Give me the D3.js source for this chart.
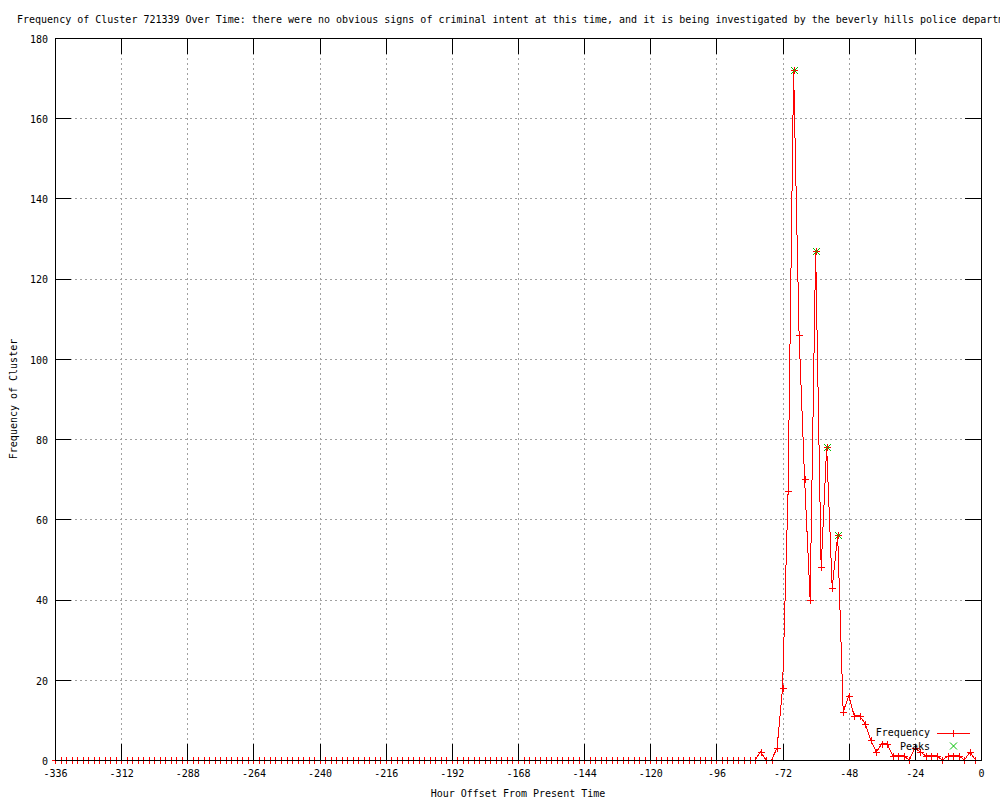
<!DOCTYPE html>
<html>
<head>
<meta charset="utf-8">
<script src="https://cdn.jsdelivr.net/npm/d3@7"></script>
<style>
  body { margin: 0; background: #fff; }
  svg { display: block; }
  text { font-family: "DejaVu Sans Mono", monospace; font-size: 10px; fill: #000; }
</style>
</head>
<body>
<svg id="vis" width="1000" height="800"></svg>
<script>
// hours before now, one bucket every 2 hours
const hours = d3.range(-336, 0, 2);
const frequency = [
  0,0,0,0,0,0,0,0,0,0,0,0,0,0,0,0,
  0,0,0,0,0,0,0,0,0,0,0,0,0,0,0,0,
  0,0,0,0,0,0,0,0,0,0,0,0,0,0,0,0,
  0,0,0,0,0,0,0,0,0,0,0,0,0,0,0,0,
  0,0,0,0,0,0,0,0,0,0,0,0,0,0,0,0,
  0,0,0,0,0,0,0,0,0,0,0,0,0,0,0,0,
  0,0,0,0,0,0,0,0,0,0,0,0,0,0,0,0,
  0,0,0,0,0,0,0,0,0,0,0,0,0,0,0,0,
  2,0,0,3,18,67,172,106,70,40,127,48,78,43,56,12,
  16,11,11,9,5,2,4,4,1,1,1,0,3,2,1,1,
  1,0,1,1,1,0,2,0
];
const peakHours = [-68, -60, -56, -52];
const peakValues = [172, 127, 78, 56];
const xTicks = [-336, -312, -288, -264, -240, -216, -192, -168, -144, -120, -96, -72, -48, -24, 0];
const yTicks = [0, 20, 40, 60, 80, 100, 120, 140, 160, 180];

const title = "Frequency of Cluster 721339 Over Time: there were no obvious signs of criminal intent at this time, and it is being investigated by the beverly hills police department.";

const plotL = 55, plotR = 981, plotT = 38, plotB = 760;
const tick = 16;

const svg = d3.select("#vis");
const x = d3.scaleLinear().domain([-336, 0]).range([plotL, plotR]);
const y = d3.scaleLinear().domain([0, 180]).range([plotB, plotT]);

const data = hours.map((h, i) => ({h: h, v: frequency[i]}));
const peaks = peakHours.map((h, i) => ({h: h, v: peakValues[i]}));

// grid
const grid = svg.append("g").attr("stroke", "#a0a0a0").attr("stroke-dasharray", "2,3")
  .attr("shape-rendering", "crispEdges");
grid.selectAll("line.gx").data(xTicks.slice(1, -1)).join("line")
  .attr("x1", d => Math.round(x(d)) + 0.5).attr("x2", d => Math.round(x(d)) + 0.5)
  .attr("y1", plotT).attr("y2", plotB);
grid.selectAll("line.gy").data(yTicks.slice(1, -1)).join("line")
  .attr("y1", d => Math.round(y(d)) + 0.5).attr("y2", d => Math.round(y(d)) + 0.5)
  .attr("x1", plotL).attr("x2", plotR);

const plus = (cx, cy, s) => `M${cx - s},${cy}H${cx + s}M${cx},${cy - s}V${cy + s}`;
const cross = (cx, cy, s) => `M${cx - s},${cy - s}L${cx + s},${cy + s}M${cx - s},${cy + s}L${cx + s},${cy - s}`;

// frequency series
const line = d3.line().x(d => x(d.h)).y(d => y(d.v));
svg.append("path").datum(data)
  .attr("d", line).attr("fill", "none").attr("stroke", "#ff0000").attr("stroke-width", 1)
  .attr("shape-rendering", "crispEdges");
svg.append("g").selectAll("path").data(data).join("path")
  .attr("d", d => plus(Math.round(x(d.h)) + 0.5, Math.round(y(d.v)) + 0.5, 3.5))
  .attr("stroke", "#ff0000").attr("fill", "none").attr("shape-rendering", "crispEdges");

// peaks
svg.append("g").selectAll("path").data(peaks).join("path")
  .attr("d", d => cross(Math.round(x(d.h)) + 0.5, Math.round(y(d.v)) + 0.5, 3.5))
  .attr("stroke", "#00c000").attr("fill", "none");

// axes, ticks pointing inward, mirrored
const fmt = d => String(d);
const ax = svg.append("g").attr("shape-rendering", "crispEdges");
const bottomAxis = ax.append("g").attr("transform", `translate(0,${plotB})`)
  .call(d3.axisBottom(x).tickValues(xTicks).tickFormat(fmt).tickSizeInner(-tick).tickSizeOuter(0).tickPadding(10));
const topAxis = ax.append("g").attr("transform", `translate(0,${plotT})`)
  .call(d3.axisTop(x).tickValues(xTicks).tickFormat("").tickSizeInner(-tick).tickSizeOuter(0));
const leftAxis = ax.append("g").attr("transform", `translate(${plotL},0)`)
  .call(d3.axisLeft(y).tickValues(yTicks).tickFormat(fmt).tickSizeInner(-tick).tickSizeOuter(0).tickPadding(7));
const rightAxis = ax.append("g").attr("transform", `translate(${plotR},0)`)
  .call(d3.axisRight(y).tickValues(yTicks).tickFormat("").tickSizeInner(-tick).tickSizeOuter(0));
[bottomAxis, topAxis, leftAxis, rightAxis].forEach(g => {
  g.attr("font-family", null).attr("font-size", null);
  g.select(".domain").remove();
  g.selectAll("line").attr("stroke", "#000");
});
leftAxis.selectAll("text").attr("dy", "0.43em");

// border on top of data
ax.append("rect").attr("x", plotL + 0.5).attr("y", plotT + 0.5)
  .attr("width", plotR - plotL).attr("height", plotB - plotT)
  .attr("fill", "none").attr("stroke", "#000");

// legend
const legend = svg.append("g");
legend.append("text").attr("x", 930).attr("y", 736).attr("text-anchor", "end").text("Frequency");
legend.append("line").attr("x1", 937).attr("x2", 970).attr("y1", 733.5).attr("y2", 733.5)
  .attr("stroke", "#ff0000").attr("shape-rendering", "crispEdges");
legend.append("path").attr("d", plus(953.5, 733.5, 3.5)).attr("stroke", "#ff0000")
  .attr("shape-rendering", "crispEdges");
legend.append("text").attr("x", 930).attr("y", 749.5).attr("text-anchor", "end").text("Peaks");
legend.append("path").attr("d", cross(953.5, 746, 3.5)).attr("stroke", "#00c000").attr("fill", "none");

// titles
svg.append("text").attr("x", 17).attr("y", 22.5).text(title);
svg.append("text").attr("x", (plotL + plotR) / 2).attr("y", 797).attr("text-anchor", "middle")
  .text("Hour Offset From Present Time");
svg.append("text").attr("transform", `translate(17,${(plotT + plotB) / 2}) rotate(-90)`)
  .attr("text-anchor", "middle").text("Frequency of Cluster");
</script>
</body>
</html>
